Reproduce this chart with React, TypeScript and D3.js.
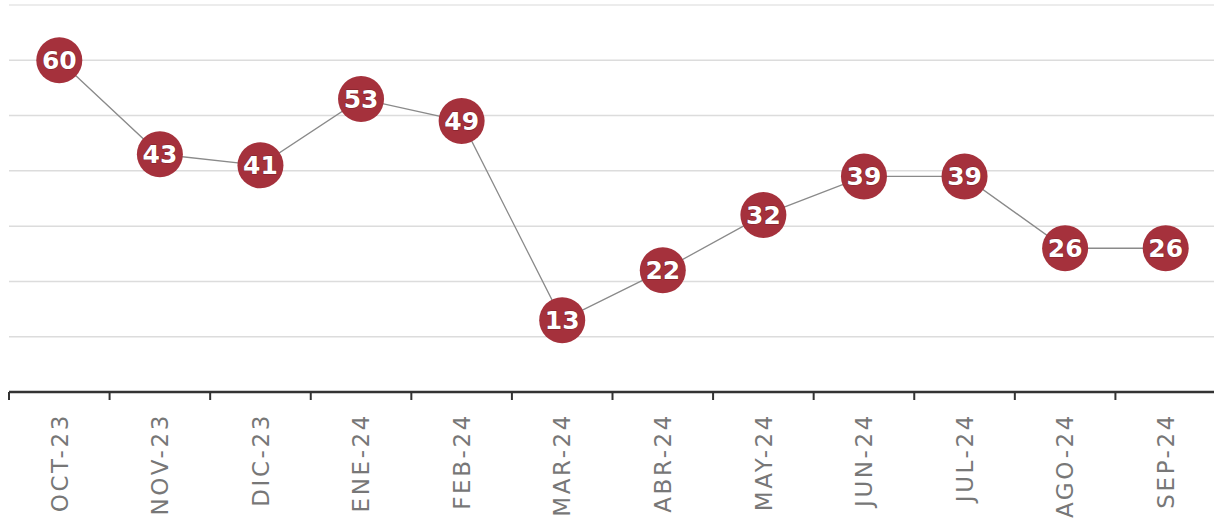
import React from "react";
import * as d3 from "d3";

const categories = ["OCT-23", "NOV-23", "DIC-23", "ENE-24", "FEB-24", "MAR-24", "ABR-24", "MAY-24", "JUN-24", "JUL-24", "AGO-24", "SEP-24"];
const values = [60, 43, 41, 53, 49, 13, 22, 32, 39, 39, 26, 26];
const gridValues = [10, 20, 30, 40, 50, 60, 70];

const W = 1214;
const H = 525;
const left = 9;
const right = 1216;
const axisY = 392;
const topY = 5;

export default function App() {
  const x = d3.scaleBand<string>().domain(categories).range([left, right]).padding(0);
  const y = d3.scaleLinear().domain([0, 70]).range([axisY, topY]);
  const cx = (c: string) => (x(c) as number) + x.bandwidth() / 2;
  const line = d3
    .line<number>()
    .x((_, i) => cx(categories[i]))
    .y((d) => y(d));
  const boundaries = categories.map((c) => x(c) as number);

  return (
    <svg width={W} height={H} style={{ position: "absolute", left: 0, top: 0, background: "#fff" }}>
      {gridValues.map((g) => (
        <line key={g} x1={left} x2={W} y1={y(g)} y2={y(g)} stroke={g === 70 ? "#e6e6e6" : "#dcdcdc"} strokeWidth={1.5} />
      ))}
      <line x1={left} x2={W} y1={axisY} y2={axisY} stroke="#333" strokeWidth={2.5} />
      {boundaries.map((b, i) => (
        <line key={i} x1={b} x2={b} y1={axisY} y2={axisY + 8} stroke="#333" strokeWidth={2} />
      ))}
      {categories.map((c) => (
        <text
          key={c}
          transform={`translate(${cx(c)},${axisY + 21}) rotate(-90)`}
          textAnchor="end"
          dy="0.36em"
          fontFamily="DejaVu Sans"
          fontSize={23}
          letterSpacing={2.6}
          fill="#777"
        >
          {c}
        </text>
      ))}
      <path d={line(values) || ""} fill="none" stroke="#8a8a8a" strokeWidth={1.3} />
      {values.map((v, i) => (
        <g key={i} transform={`translate(${cx(categories[i])},${y(v)})`}>
          <circle r={23} fill="#a5313c" />
          <text
            textAnchor="middle"
            dy="0.36em"
            fontFamily="DejaVu Sans"
            fontWeight="bold"
            fontSize={25}
            fill="#fff"
            stroke="#7a1f28"
            strokeWidth={1}
            paintOrder="stroke"
          >
            {v}
          </text>
        </g>
      ))}
    </svg>
  );
}
